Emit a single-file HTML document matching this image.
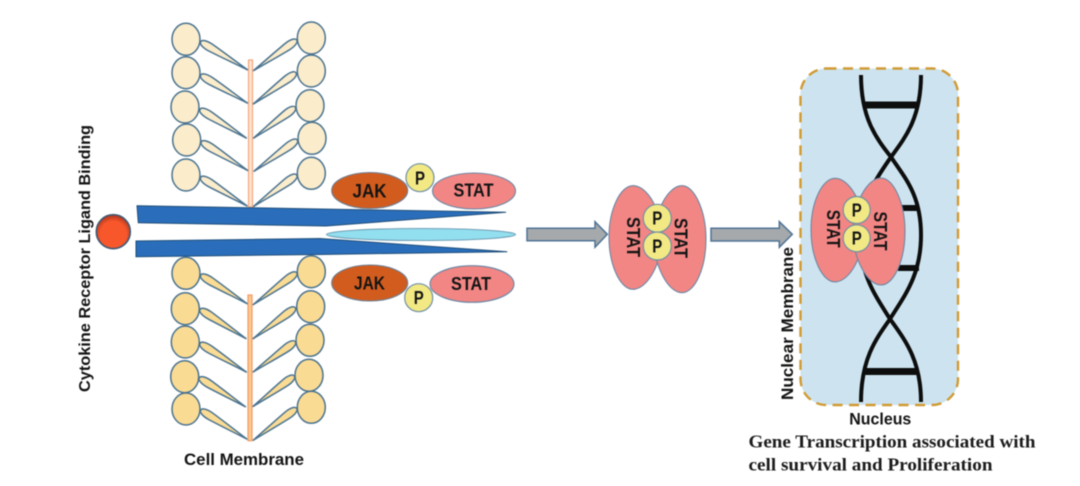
<!DOCTYPE html>
<html>
<head>
<meta charset="utf-8">
<style>
html,body{margin:0;padding:0;background:#fff;width:1080px;height:486px;overflow:hidden}
svg{display:block;filter:blur(0.5px)}
text{font-family:"Liberation Sans",sans-serif;font-weight:bold;fill:#141414}
.serif{font-family:"Liberation Serif",serif;fill:#1c1c1c}
.c1{fill:#fbeccb;stroke:#4a7390;stroke-width:1.5}
.c2{fill:#fadb93;stroke:#4a7390;stroke-width:1.5}
.stat{fill:#f28684;stroke:#6b88a5;stroke-width:1.1}
.jak{fill:#d25c1e;stroke:#6b7f95;stroke-width:1.1}
.p{fill:#f2e985;stroke:#6f8fa5;stroke-width:1.2}
.blue{fill:#2a6ebb;stroke:#1f4e79;stroke-width:1}
.arr{fill:#a5a9ab;stroke:#4f7396;stroke-width:1.5}
</style>
</head>
<body>
<svg width="1080" height="486" viewBox="0 0 1080 486" xmlns="http://www.w3.org/2000/svg">
<defs>
<path id="ta" d="M0,0 C0,-3 6,-4.2 12,-3.8 C26,-2.8 42,-1 55,0 C42,1 26,2.8 12,3.8 C6,4.2 0,3 0,0Z"/>
<path id="ol" d="M633,185.7 C620,185.7 609,210 609,237 C609,265 620,289.3 633,289.3 C648,289.3 662,262 662,237 C662,212 648,185.7 633,185.7Z"/>
<path id="or" d="M682,185.7 C668,185.7 654,212 654,239 C654,266 668,292.7 682,292.7 C695,292.7 706,268 706,239 C706,212 695,185.7 682,185.7Z"/>
<radialGradient id="rg" cx="50%" cy="58%" r="55%">
<stop offset="0.7" stop-color="#f8572b"/>
<stop offset="1" stop-color="#b8391e"/>
</radialGradient>
</defs>
<rect width="1080" height="486" fill="#fff"/>

<!-- upper membrane -->
<rect x="248.5" y="60" width="4" height="147" fill="#fde3cf" stroke="#f4a77c" stroke-width="1.2"/>
<g class="c1">
<ellipse cx="186" cy="39.3" rx="14" ry="16"/>
<ellipse cx="186" cy="72.7" rx="14" ry="16"/>
<ellipse cx="185" cy="107" rx="14" ry="16"/>
<ellipse cx="186.7" cy="140" rx="14" ry="16"/>
<ellipse cx="186" cy="175" rx="14" ry="16"/>
<ellipse cx="311.3" cy="38" rx="14" ry="16"/>
<ellipse cx="311.3" cy="71" rx="14" ry="16"/>
<ellipse cx="310" cy="105.7" rx="14" ry="16"/>
<ellipse cx="312" cy="138.3" rx="14" ry="16"/>
<ellipse cx="311.3" cy="173.3" rx="14" ry="16"/>
<use href="#ta" transform="translate(200.7,41.7) rotate(31)"/>
<use href="#ta" transform="translate(200.7,75) rotate(31)"/>
<use href="#ta" transform="translate(200,109.3) rotate(31.8)"/>
<use href="#ta" transform="translate(201.3,141.7) rotate(31.8)"/>
<use href="#ta" transform="translate(200.7,177.3) rotate(31.7)"/>
<use href="#ta" transform="translate(296.7,40) rotate(144.7) scale(.97,1)"/>
<use href="#ta" transform="translate(296,72.7) rotate(143.8) scale(.97,1)"/>
<use href="#ta" transform="translate(295.3,107.3) rotate(143.6) scale(.95,1)"/>
<use href="#ta" transform="translate(297.3,140) rotate(144.2) scale(.98,1)"/>
<use href="#ta" transform="translate(296.7,175) rotate(143.9) scale(.98,1)"/>
</g>

<!-- lower membrane -->
<rect x="248" y="295" width="4" height="145.7" fill="#fdc98a" stroke="#f19a6a" stroke-width="1.2"/>
<g class="c2">
<ellipse cx="186" cy="273.3" rx="14" ry="16"/>
<ellipse cx="185.3" cy="308.7" rx="14" ry="16"/>
<ellipse cx="185.3" cy="342" rx="14" ry="16"/>
<ellipse cx="184.7" cy="376.7" rx="14" ry="16"/>
<ellipse cx="186" cy="409" rx="14" ry="16"/>
<ellipse cx="311.3" cy="271.7" rx="14" ry="16"/>
<ellipse cx="310.7" cy="306.7" rx="14" ry="16"/>
<ellipse cx="310" cy="340.3" rx="14" ry="16"/>
<ellipse cx="309" cy="375.3" rx="14" ry="16"/>
<ellipse cx="311.3" cy="407.3" rx="14" ry="16"/>
<use href="#ta" transform="translate(200.7,275) rotate(31.7)"/>
<use href="#ta" transform="translate(200,309.3) rotate(32.5)"/>
<use href="#ta" transform="translate(200,343.3) rotate(31.8)"/>
<use href="#ta" transform="translate(199.3,377.7) rotate(32.2)"/>
<use href="#ta" transform="translate(200.7,410) rotate(32.2)"/>
<use href="#ta" transform="translate(296.7,272.7) rotate(143.7) scale(.99,1)"/>
<use href="#ta" transform="translate(295.3,307.7) rotate(143.7) scale(.96,1)"/>
<use href="#ta" transform="translate(295.3,341.7) rotate(144.3) scale(.95,1)"/>
<use href="#ta" transform="translate(294.3,376) rotate(143.6) scale(.94,1)"/>
<use href="#ta" transform="translate(296.7,408.3) rotate(143.7) scale(.99,1)"/>
</g>

<!-- receptor -->
<polygon class="blue" points="137,205.7 320,209 506,212.3 326,226 138.3,222.7"/>
<polygon class="blue" points="136,241 320,238.5 507.3,251.7 320,254.5 136,256.7"/>
<ellipse cx="421" cy="234.5" rx="94.5" ry="6" fill="#92dff0" stroke="#6f9fb5" stroke-width="1.1"/>
<circle cx="113.3" cy="231.7" r="17" fill="url(#rg)" stroke="#3f5a75" stroke-width="1.6"/>

<!-- JAK / STAT -->
<ellipse class="jak" cx="369.7" cy="190.5" rx="38" ry="18"/>
<ellipse class="stat" cx="474" cy="191" rx="41.5" ry="18"/>
<circle class="p" cx="420" cy="177.7" r="14"/>
<ellipse class="jak" cx="369.7" cy="283" rx="38" ry="18"/>
<ellipse class="stat" cx="472" cy="284" rx="42" ry="18.3"/>
<circle class="p" cx="418.7" cy="297.7" r="14"/>
<text x="369.5" y="197.7" font-size="19" text-anchor="middle" textLength="34" lengthAdjust="spacingAndGlyphs">JAK</text>
<text x="473.5" y="196.7" font-size="18" text-anchor="middle" textLength="40" lengthAdjust="spacingAndGlyphs">STAT</text>
<text x="420" y="184.3" font-size="18" text-anchor="middle" textLength="10" lengthAdjust="spacingAndGlyphs">P</text>
<text x="369.5" y="289.3" font-size="18" text-anchor="middle" textLength="31" lengthAdjust="spacingAndGlyphs">JAK</text>
<text x="471" y="290" font-size="18" text-anchor="middle" textLength="40" lengthAdjust="spacingAndGlyphs">STAT</text>
<text x="418.7" y="304" font-size="18" text-anchor="middle" textLength="10" lengthAdjust="spacingAndGlyphs">P</text>

<!-- arrows -->
<polygon class="arr" points="527,228.3 595,228.3 595,221.7 607.3,234.3 595,247.3 595,240.7 527,240.7"/>
<polygon class="arr" points="711,228.3 779.3,228.3 779.3,221.7 792.3,234.3 779.3,247.3 779.3,241 711,241"/>

<!-- middle dimer -->
<use href="#ol" class="stat"/>
<use href="#or" class="stat"/>
<circle class="p" cx="657.3" cy="218.3" r="14"/>
<circle class="p" cx="657.3" cy="246" r="14"/>
<text transform="translate(627,237) rotate(90)" font-size="18" text-anchor="middle" textLength="40" lengthAdjust="spacingAndGlyphs">STAT</text>
<text transform="translate(674.5,238) rotate(90)" font-size="18" text-anchor="middle" textLength="40" lengthAdjust="spacingAndGlyphs">STAT</text>
<text x="657.3" y="224.5" font-size="18" text-anchor="middle" textLength="10" lengthAdjust="spacingAndGlyphs">P</text>
<text x="657.3" y="252.3" font-size="18" text-anchor="middle" textLength="10" lengthAdjust="spacingAndGlyphs">P</text>

<!-- nucleus -->
<rect x="800.5" y="68.5" width="157.5" height="336.5" rx="26" ry="26" fill="#cde4f0" stroke="#d19a33" stroke-width="2.4" stroke-dasharray="10 6.5"/>
<g fill="none" stroke="#0d0d0d" stroke-width="4">
<path d="M861,75 C861,118 876,138 891,157 C905,178 921,195 921,235 C921,275 905,295 890,319 C875,340 861,360 861,402"/>
<path d="M921,75 C921,118 905,138 891,157 C878,176 860,200 860,235 C860,275 875,295 890,319 C905,340 921,360 921,402"/>
</g>
<g fill="#0d0d0d">
<rect x="865" y="101.5" width="52" height="7"/>
<rect x="900" y="205" width="18" height="6"/>
<rect x="898" y="265" width="21" height="6"/>
<rect x="863" y="368" width="55" height="7"/>
</g>
<g transform="translate(202,-7.4)"><use href="#ol" class="stat"/></g>
<g transform="translate(199,-7.7)"><use href="#or" class="stat"/></g>
<circle class="p" cx="856.7" cy="210" r="13.5"/>
<circle class="p" cx="856.7" cy="238.3" r="13.5"/>
<text transform="translate(827,228.7) rotate(90)" font-size="18" text-anchor="middle" textLength="38" lengthAdjust="spacingAndGlyphs">STAT</text>
<text transform="translate(874,231) rotate(90)" font-size="18" text-anchor="middle" textLength="39" lengthAdjust="spacingAndGlyphs">STAT</text>
<text x="856.7" y="216.3" font-size="18" text-anchor="middle" textLength="10" lengthAdjust="spacingAndGlyphs">P</text>
<text x="856.7" y="244.6" font-size="18" text-anchor="middle" textLength="10" lengthAdjust="spacingAndGlyphs">P</text>

<!-- labels -->
<text transform="translate(90,392) rotate(-90)" font-size="16" textLength="267" lengthAdjust="spacingAndGlyphs">Cytokine Receptor Ligand Binding</text>
<text x="184" y="465" font-size="16.5" textLength="120" lengthAdjust="spacingAndGlyphs">Cell Membrane</text>
<text transform="translate(793,400) rotate(-90)" font-size="16.5" textLength="153" lengthAdjust="spacingAndGlyphs">Nuclear Membrane</text>
<text x="849.3" y="424.3" font-size="16.5" textLength="62" lengthAdjust="spacingAndGlyphs">Nucleus</text>
<text class="serif" x="748.5" y="447.3" font-size="17.5" textLength="287" lengthAdjust="spacingAndGlyphs">Gene Transcription associated with</text>
<text class="serif" x="748.5" y="470.7" font-size="17.5" textLength="244" lengthAdjust="spacingAndGlyphs">cell survival and Proliferation</text>
</svg>
</body>
</html>
